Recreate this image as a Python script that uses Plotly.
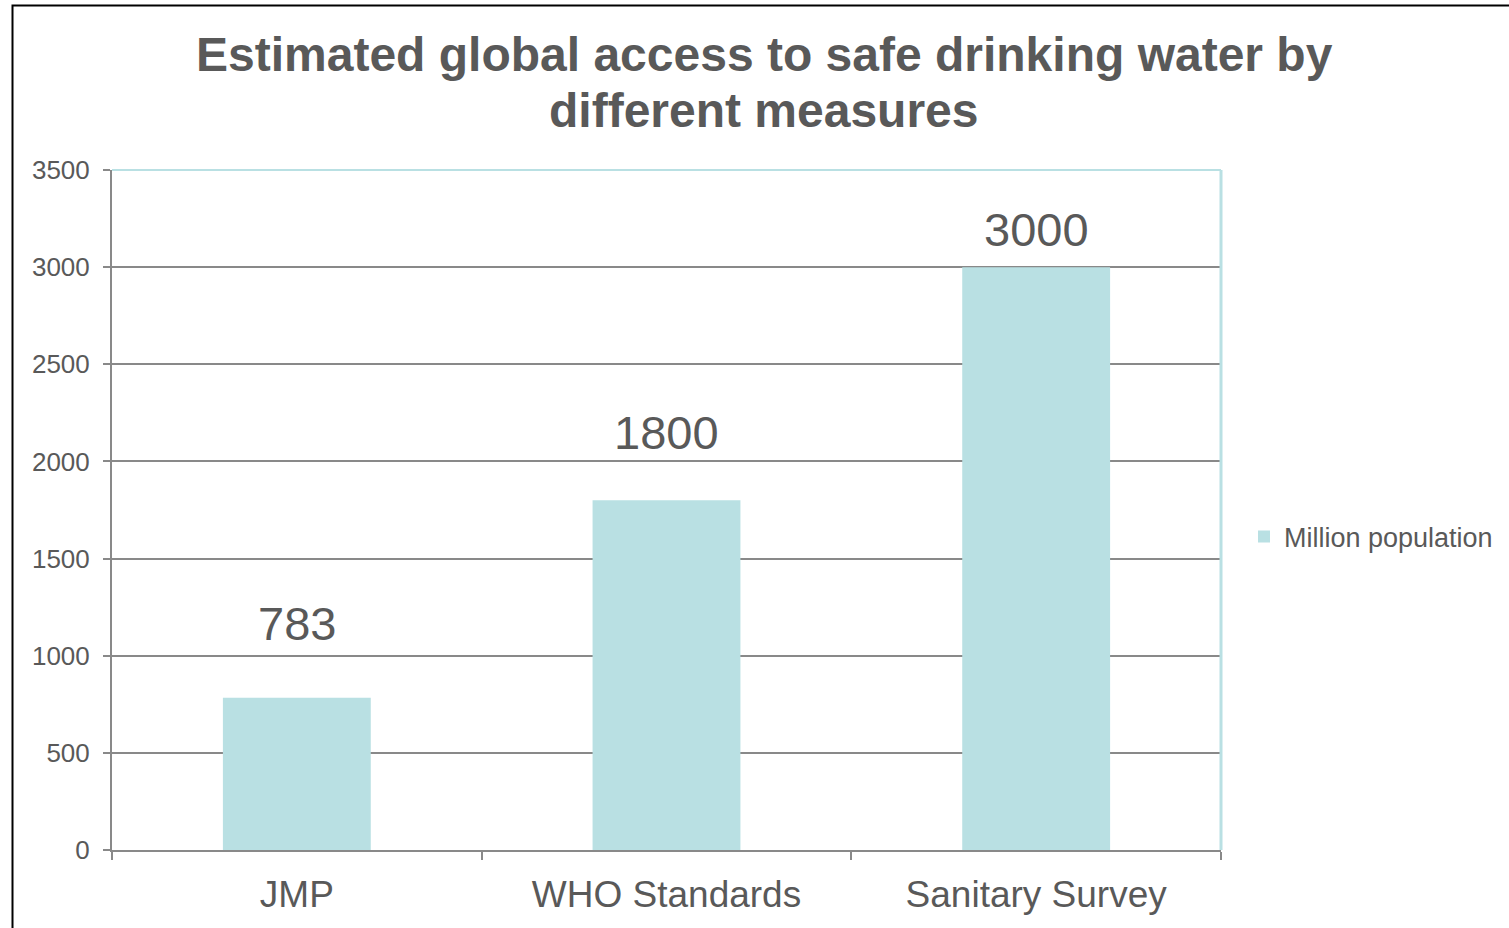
import plotly.graph_objects as go

categories = ["JMP", "WHO Standards", "Sanitary Survey"]
values = [783, 1800, 3000]
series_name = "Million population"
y_ticks = [0, 500, 1000, 1500, 2000, 2500, 3000, 3500]
title_lines = ["Estimated global access to safe drinking water by", "different measures"]

# styling / label offsets (pixels above bar top)
label_shift = [74, 68, 38]
title_line_centers = [55, 110]  # pixels from top

W, H = 1509, 928
L, R, T, B = 112, 288, 170, 78
bar_color = "#B9E0E3"
text_color = "#595959"
grid_color = "#898989"
font = "Liberation Sans, Arial, sans-serif"

fig = go.Figure()
fig.add_trace(go.Bar(
    x=categories, y=values, name=series_name,
    marker=dict(color=bar_color, line=dict(width=0)),
    showlegend=True,
))

pw = W - L - R
ph = H - T - B

annotations = []
for c, v, s in zip(categories, values, label_shift):
    annotations.append(dict(
        x=c, y=v, xref="x", yref="y", text=str(v), showarrow=False,
        yanchor="middle", yshift=s,
        font=dict(family=font, size=47, color=text_color),
    ))
for line, yc in zip(title_lines, title_line_centers):
    annotations.append(dict(
        x=(764 - L) / pw, y=(H - B - yc) / ph, xref="paper", yref="paper",
        xanchor="center", yanchor="middle", showarrow=False,
        text="<b>" + line + "</b>", align="center",
        font=dict(family=font, size=48, color=text_color),
    ))

shapes = [
    dict(type="line", xref="paper", yref="paper", x0=0, x1=1, y0=1, y1=1,
         line=dict(color=bar_color, width=2)),
    dict(type="line", xref="paper", yref="paper", x0=1, x1=1, y0=0, y1=1,
         line=dict(color=bar_color, width=3)),
    dict(type="rect", xref="paper", yref="paper",
         x0=(12.5 - L) / pw, x1=(W + 20 - L) / pw,
         y0=-(B + 20) / ph, y1=(H - B - 5.5) / ph,
         line=dict(color="black", width=2), fillcolor="rgba(0,0,0,0)", layer="above"),
]

fig.update_layout(
    width=W, height=H,
    margin=dict(l=L, r=R, t=T, b=B, autoexpand=False),
    paper_bgcolor="white", plot_bgcolor="white",
    font=dict(family=font, color=text_color),
    bargap=0.6,
    xaxis=dict(
        type="category", showgrid=False,
        showline=True, linecolor=grid_color, linewidth=2,
        ticks="outside", tickson="boundaries", ticklen=8, tickcolor=grid_color, tickwidth=2,
        tickfont=dict(family=font, size=37, color=text_color),
        ticklabelstandoff=11,
        zeroline=False,
    ),
    yaxis=dict(
        range=[0, 3500], tickvals=y_ticks,
        showgrid=True, gridcolor=grid_color, gridwidth=2,
        showline=True, linecolor=grid_color, linewidth=2,
        ticks="outside", ticklen=7, tickcolor=grid_color, tickwidth=2,
        tickfont=dict(family=font, size=26, color=text_color),
        ticklabelstandoff=8,
        zeroline=False,
    ),
    legend=dict(
        x=(1244 - L) / pw, xanchor="left", y=(H - B - 537) / ph, yanchor="middle",
        font=dict(family=font, size=27, color=text_color),
        itemwidth=30, bgcolor="rgba(0,0,0,0)",
    ),
    annotations=annotations,
    shapes=shapes,
)

fig.write_html("out.html")
